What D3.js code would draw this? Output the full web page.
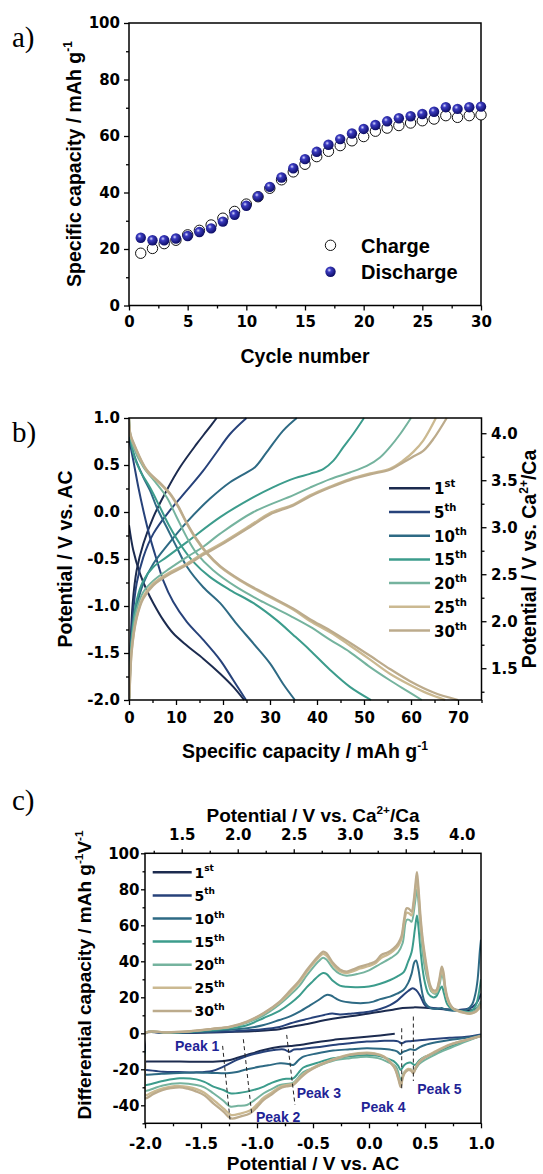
<!DOCTYPE html>
<html><head><meta charset="utf-8">
<script src="https://cdn.jsdelivr.net/npm/d3@7"></script>
<style>
body{margin:0;background:#fff}
</style></head>
<body><svg id="fig" width="543" height="1174"></svg>
<script>
// ---------------- DATA ----------------
// Panel a
const cycleNumbers = [1,2,3,4,5,6,7,8,9,10,11,12,13,14,15,16,17,18,19,20,21,22,23,24,25,26,27,28,29,30];
const chargeCap = [18.5,20.2,21.9,23.1,25,26.6,28.5,30.9,33.3,35.9,38.5,41.5,44.5,47.3,50,52.7,54.6,56.6,58.3,59.8,61.7,62.8,63.7,64.6,65.4,66,67.2,66.6,67.2,67.5];
const dischargeCap = [24,23.1,23.1,23.7,24.6,26,27.3,29.7,32.1,35.3,38.6,42,45.3,48.6,51.8,54.4,56.9,58.9,60.9,62.5,63.9,65.2,66.3,67,67.8,68.6,70.2,69.6,70.2,70.4];
const aXTicks = [0,5,10,15,20,25,30];
const aXMinor = [2.5,7.5,12.5,17.5,22.5,27.5];
const aYTicks = [0,20,40,60,80,100];
const aYMinor = [10,30,50,70,90];

// Legend (panels b and c)
const cycleLabels = ["1","5","10","15","20","25","30"];
const cycleSuffix = ["st","th","th","th","th","th","th"];
const cycleColors = ["#1c2b4f","#27427a","#2e6a84","#3c9c8c","#75b39e","#cbb991","#bcab8c"];

// Panel b : [capacity, potential vs AC]
const bCh1  = [[0,-2],[0.07,-1.96],[0.35,-1.4],[0.78,-0.974],[1.63,-0.62],[3.05,-0.337],[5.18,-0.054],[8.0,0.229],[10.85,0.476],[14.4,0.724],[16.5,0.86],[18.65,1.0]];
const bCh5  = [[0,-2],[0.2,-1.61],[0.78,-1.115],[1.63,-0.76],[3.05,-0.48],[5.18,-0.23],[8.7,0.017],[12.3,0.229],[15.8,0.44],[18.65,0.636],[21.5,0.83],[25.0,1.0]];
const bCh10 = [[0,-2],[0.07,-1.96],[0.57,-1.40],[1.63,-1.01],[3.05,-0.76],[5.18,-0.55],[8.7,-0.32],[12.3,-0.107],[17.2,0.14],[21.5,0.317],[25.0,0.42],[26.8,0.476],[29.3,0.636],[32.8,0.866],[35.7,1.0]];
const bCh15 = [[0,-2],[0.07,-1.93],[0.57,-1.33],[1.63,-0.94],[3.05,-0.73],[5.18,-0.585],[8.0,-0.48],[12.3,-0.32],[19.4,-0.054],[26.5,0.158],[30.5,0.26],[35.3,0.36],[38.5,0.406],[41.4,0.46],[43.5,0.547],[45.6,0.69],[47.7,0.83],[50.0,1.0]];
const bCh20 = [[0,-2],[0.07,-1.96],[0.57,-1.40],[1.63,-1.04],[3.05,-0.85],[5.18,-0.73],[8.7,-0.60],[12.3,-0.48],[15.8,-0.37],[19.4,-0.23],[26.5,0.0],[35.0,0.18],[38.5,0.26],[42.8,0.35],[47.0,0.42],[50.6,0.49],[53.4,0.58],[55.5,0.69],[57.7,0.83],[60.0,1.0]];
const bCh25 = [[0,-2],[0.07,-1.96],[0.57,-1.47],[1.63,-1.115],[3.05,-0.90],[5.18,-0.76],[8.7,-0.64],[12.3,-0.55],[15.8,-0.44],[19.4,-0.34],[26.5,-0.12],[30,-0.01],[35,0.08],[38.5,0.177],[42.8,0.27],[47.0,0.35],[51.3,0.41],[55.5,0.46],[58.4,0.55],[60.5,0.64],[62.6,0.76],[65.3,1.0]];
const bCh30 = [[0,-2],[0.07,-1.97],[0.57,-1.49],[1.63,-1.13],[3.05,-0.92],[5.18,-0.78],[8.7,-0.66],[12.3,-0.565],[15.8,-0.455],[19.4,-0.355],[26.5,-0.135],[30,-0.025],[35,0.07],[38.5,0.165],[42.8,0.26],[47.0,0.34],[51.3,0.40],[55.5,0.45],[58.4,0.53],[60.5,0.59],[62.6,0.65],[64.8,0.78],[67.6,1.0]];

const bDis1  = [[0,-0.14],[0.92,-0.41],[2.34,-0.655],[3.76,-0.83],[5.18,-0.97],[7.3,-1.15],[9.4,-1.29],[12.3,-1.42],[15.8,-1.56],[19.4,-1.72],[22.2,-1.86],[24.5,-2.0]];
const bDis5  = [[0,0.78],[0.92,0.547],[1.99,0.264],[3.05,0.017],[4.47,-0.27],[5.9,-0.51],[7.3,-0.73],[9.4,-0.956],[12.3,-1.17],[15.8,-1.36],[19.4,-1.575],[22.2,-1.79],[24.9,-2.0]];
const bDis10 = [[0,0.8],[1.28,0.58],[3.05,0.37],[4.47,0.23],[5.9,0.05],[8.0,-0.16],[10.1,-0.37],[12.3,-0.58],[15.8,-0.80],[19.4,-0.97],[22.9,-1.19],[26.5,-1.40],[30.0,-1.61],[32.8,-1.83],[35.3,-2.0]];
const bDis15 = [[0,1.0],[0.3,0.8],[0.92,0.62],[2.34,0.44],[4.47,0.26],[6.6,0.05],[8.7,-0.16],[10.85,-0.34],[13.7,-0.53],[17.2,-0.69],[21.5,-0.83],[26.5,-0.97],[31.4,-1.15],[35.0,-1.31],[38.5,-1.47],[42.8,-1.68],[47.0,-1.86],[51.5,-2.0]];
const bDis20 = [[0,1.0],[0.3,0.82],[0.92,0.69],[3.05,0.48],[5.9,0.30],[8.0,0.16],[10.1,-0.05],[12.3,-0.27],[14.4,-0.44],[17.9,-0.62],[22.9,-0.80],[28.6,-0.96],[34.5,-1.11],[38.5,-1.22],[42.8,-1.36],[47.0,-1.49],[51.3,-1.65],[55.5,-1.79],[58.7,-1.89],[62.3,-2.0]];
const bDis25 = [[0,1.0],[0.3,0.82],[1.28,0.69],[3.76,0.44],[6.6,0.30],[8.7,0.19],[10.5,0.05],[12.3,-0.125],[14.4,-0.30],[16.5,-0.44],[19.4,-0.585],[23.6,-0.73],[28.6,-0.87],[35.0,-1.04],[38.5,-1.16],[42.8,-1.28],[47.0,-1.42],[51.3,-1.57],[55.5,-1.72],[59.8,-1.84],[63.5,-1.93],[67.3,-2.0]];
const bDis30 = [[0,1.0],[0.3,0.83],[1.28,0.70],[3.76,0.45],[6.6,0.31],[8.7,0.20],[10.5,0.06],[12.3,-0.115],[14.4,-0.29],[16.5,-0.43],[19.4,-0.575],[23.6,-0.72],[28.6,-0.86],[35.0,-1.03],[38.5,-1.14],[42.8,-1.26],[47.0,-1.39],[51.3,-1.53],[55.5,-1.67],[59.8,-1.80],[64.8,-1.92],[70.0,-2.0]];

const bXTicks = [0,10,20,30,40,50,60,70];
const bXMinor = [5,15,25,35,45,55,65,75];
const bYTicks = [-2,-1.5,-1,-0.5,0,0.5,1];
const bYMinor = [-1.75,-1.25,-0.75,-0.25,0.25,0.75];
const bY2Ticks = [1.5,2,2.5,3,3.5,4];
const bY2Minor = [1.25,1.75,2.25,2.75,3.25,3.75];

// Panel c : [potential vs AC, dQ/dV]  discharge branch (1.0 -> -2.0) and charge branch (-2.0 -> 1.0)
const cDis1  = [[0.23,-0.3],[0.1,-1.2],[-0.02,-1.9],[-0.17,-2.8],[-0.32,-3.7],[-0.47,-5],[-0.616,-6.5],[-0.7,-7],[-0.795,-7.5],[-0.94,-9.3],[-1.09,-12],[-1.24,-14.8],[-1.36,-15.7],[-1.5,-15.8],[-1.69,-15.7],[-1.85,-15.7],[-1.985,-15.7]];
const cDis5  = [[1.0,-0.6],[0.87,-1.9],[0.72,-2.5],[0.58,-3.1],[0.45,-3.8],[0.37,-4.4],[0.33,-4.6],[0.292,-5.6],[0.26,-4.5],[0.22,-4.1],[0.1,-4.3],[-0.02,-4.6],[-0.17,-5.5],[-0.32,-6.5],[-0.47,-7.8],[-0.616,-8.8],[-0.67,-9],[-0.71,-10.3],[-0.76,-9],[-0.85,-9.3],[-0.94,-10.2],[-1.09,-12.6],[-1.18,-14.8],[-1.3,-18.5],[-1.4,-20.9],[-1.54,-21.7],[-1.7,-21.5],[-1.84,-21.3],[-1.985,-20.4]];
const cDis10 = [[1.0,-0.9],[0.87,-2.5],[0.72,-3.7],[0.6,-5],[0.5,-6.5],[0.45,-7.8],[0.41,-9.3],[0.37,-8.8],[0.336,-9.6],[0.3,-10.5],[0.28,-11.5],[0.25,-10],[0.2,-9.2],[0.1,-8.6],[-0.02,-8.3],[-0.17,-8.9],[-0.32,-9.6],[-0.467,-11.2],[-0.586,-13],[-0.63,-15],[-0.676,-17.6],[-0.72,-17],[-0.795,-16.7],[-0.9,-17.8],[-0.97,-18.5],[-1.09,-20],[-1.18,-21.5],[-1.27,-22.2],[-1.4,-22],[-1.55,-21.8],[-1.69,-22],[-1.85,-22.5],[-1.985,-23]];
const cDis15 = [[1.0,-1.5],[0.87,-4],[0.72,-7.4],[0.6,-10.5],[0.5,-13],[0.45,-15],[0.41,-17.6],[0.37,-16.2],[0.336,-16.7],[0.31,-18],[0.283,-20.4],[0.26,-18],[0.22,-15.5],[0.16,-13.9],[0.08,-12.5],[-0.02,-12],[-0.17,-12.8],[-0.32,-13.9],[-0.467,-16.5],[-0.586,-19],[-0.63,-22],[-0.676,-25],[-0.74,-25.3],[-0.795,-25.9],[-0.87,-27.5],[-0.94,-29.6],[-1.09,-32.4],[-1.24,-33.3],[-1.3,-31.5],[-1.39,-29.6],[-1.47,-27],[-1.54,-25.6],[-1.69,-25],[-1.84,-26.5],[-1.985,-28.7]];
const cDis20 = [[1.0,-1.5],[0.87,-4.5],[0.72,-8.3],[0.6,-11.5],[0.5,-14.8],[0.45,-17],[0.42,-19.5],[0.396,-21.3],[0.37,-20],[0.336,-20.4],[0.31,-22],[0.283,-25.9],[0.265,-22.5],[0.24,-18.5],[0.16,-15.7],[0.08,-13.8],[-0.02,-13],[-0.17,-13.8],[-0.32,-15.2],[-0.467,-18.5],[-0.586,-21.5],[-0.63,-24.5],[-0.676,-27.4],[-0.795,-28.7],[-0.87,-31],[-0.94,-33.3],[-1.02,-37],[-1.09,-39.8],[-1.17,-40.3],[-1.24,-40.7],[-1.3,-37.5],[-1.39,-33.3],[-1.47,-30],[-1.54,-28.7],[-1.69,-27.8],[-1.84,-29],[-1.985,-31.9]];
const cDis25 = [[1.0,-1.4],[0.87,-3.6],[0.72,-6.3],[0.574,-10.7],[0.5,-13.2],[0.455,-15.3],[0.42,-18.5],[0.396,-21.5],[0.375,-20.2],[0.35,-19.8],[0.32,-21.4],[0.3,-24.3],[0.283,-29],[0.265,-25.3],[0.24,-20.5],[0.22,-18],[0.13,-12.7],[0.05,-11.2],[-0.02,-10.8],[-0.17,-11.7],[-0.32,-14.4],[-0.467,-18],[-0.55,-21],[-0.616,-24.3],[-0.676,-28],[-0.74,-28.8],[-0.795,-29.8],[-0.87,-33],[-0.94,-35.8],[-1.0,-39.5],[-1.06,-42.8],[-1.15,-44.6],[-1.23,-45.4],[-1.3,-41.7],[-1.39,-37],[-1.47,-33],[-1.54,-31],[-1.62,-29.8],[-1.69,-29.3],[-1.77,-29.6],[-1.84,-30.6],[-1.92,-32.3],[-1.985,-34.3]];
const cDis30 = [[1.0,-1.5],[0.87,-3.7],[0.72,-6.5],[0.574,-11],[0.5,-13.5],[0.455,-15.7],[0.42,-19],[0.396,-22.2],[0.375,-20.8],[0.35,-20.4],[0.32,-22],[0.3,-25],[0.283,-29.8],[0.265,-26],[0.24,-21],[0.22,-18.5],[0.13,-13],[0.05,-11.5],[-0.02,-11.1],[-0.17,-12],[-0.32,-14.8],[-0.467,-18.5],[-0.55,-21.5],[-0.616,-25],[-0.676,-28.7],[-0.74,-29.5],[-0.795,-30.6],[-0.87,-34],[-0.94,-37],[-1.0,-41],[-1.06,-44.4],[-1.15,-46.3],[-1.23,-47.3],[-1.3,-43.5],[-1.39,-38.9],[-1.47,-34.5],[-1.54,-32.4],[-1.62,-30.8],[-1.69,-30],[-1.77,-30.5],[-1.84,-31.5],[-1.92,-33.5],[-1.985,-36]];

const cCh1  = [[-2,0],[-1.8,0.1],[-1.6,0.2],[-1.4,0.5],[-1.2,0.8],[-1.0,1.3],[-0.8,2.3],[-0.7,3.5],[-0.55,5.2],[-0.4,7.2],[-0.25,8.8],[-0.1,10],[0,11],[0.1,12],[0.2,13],[0.3,14],[0.4,14.4],[0.5,14.2],[0.6,13.7],[0.7,13.2],[0.8,13],[0.9,12.8],[0.95,13.5],[1.0,17]];
const cCh5  = [[-2,0],[-1.8,0.1],[-1.6,0.3],[-1.4,0.7],[-1.2,1.2],[-1.0,2],[-0.8,3.5],[-0.7,5.6],[-0.55,8],[-0.4,10.2],[-0.33,11],[-0.26,10.5],[-0.15,11],[0,12],[0.1,13.5],[0.188,15.7],[0.25,18],[0.307,21.3],[0.35,23.5],[0.39,25],[0.42,24],[0.455,21],[0.49,16.5],[0.515,14.8],[0.6,13.9],[0.7,13.2],[0.8,13],[0.9,13.9],[0.95,16],[0.98,19],[1.0,22]];
const cCh10 = [[-2,0],[-1.8,0.2],[-1.6,0.6],[-1.4,1.2],[-1.24,2],[-1.09,2.8],[-0.94,4.6],[-0.8,7.4],[-0.7,9.5],[-0.62,12],[-0.527,15.5],[-0.45,18.5],[-0.38,21.3],[-0.34,21],[-0.3,19.5],[-0.25,18],[-0.15,17],[-0.05,16.8],[0.04,17.6],[0.1,19],[0.188,20.4],[0.25,22],[0.307,24],[0.35,28],[0.38,33],[0.405,39.5],[0.42,40.5],[0.44,36],[0.46,28],[0.48,21],[0.5,17],[0.55,14],[0.6,13.5],[0.65,14],[0.67,13.5],[0.7,13],[0.8,12.5],[0.87,13],[0.92,16],[0.95,22],[0.97,30],[0.99,46],[1.0,52]];
const cCh15 = [[-2,0],[-1.8,0.3],[-1.6,0.8],[-1.4,1.8],[-1.24,2.8],[-1.09,4.5],[-0.94,8.5],[-0.8,12.5],[-0.7,16.7],[-0.62,21],[-0.557,25.5],[-0.5,29],[-0.45,32],[-0.41,33.5],[-0.38,33],[-0.32,29],[-0.26,26.5],[-0.2,25.8],[-0.1,25.6],[0,26],[0.1,27.5],[0.19,29.6],[0.25,31.5],[0.31,34],[0.35,40],[0.38,45],[0.41,58],[0.428,65.5],[0.44,60],[0.46,46],[0.48,35],[0.5,28],[0.53,22],[0.57,20],[0.6,20.5],[0.63,24],[0.65,26],[0.67,22],[0.7,16],[0.74,13.5],[0.8,12.5],[0.9,12],[0.95,15],[0.98,22],[1.0,30]];
const cCh20 = [[-2,0],[-1.8,0.4],[-1.6,1],[-1.4,2.2],[-1.24,3.3],[-1.09,5.8],[-0.94,10],[-0.8,16],[-0.7,21.5],[-0.62,26.5],[-0.557,32],[-0.5,36.5],[-0.45,40],[-0.41,42],[-0.38,41],[-0.32,36],[-0.26,33],[-0.2,32],[-0.1,33],[0,35],[0.1,38.5],[0.2,42],[0.26,45],[0.3,50],[0.336,63],[0.36,63],[0.38,62],[0.41,72],[0.428,80],[0.44,74],[0.46,58],[0.48,44],[0.5,36],[0.53,28],[0.56,23],[0.6,22],[0.63,27],[0.65,33],[0.665,30],[0.69,21],[0.72,16],[0.76,13.5],[0.8,12.5],[0.9,11.5],[0.95,13],[1.0,18]];
const cCh25 = [[-2,0],[-1.8,0.5],[-1.6,1.1],[-1.4,2.4],[-1.24,3.6],[-1.09,6.3],[-0.94,11],[-0.8,17],[-0.7,23],[-0.62,28.5],[-0.557,34],[-0.5,38.5],[-0.45,42],[-0.41,44.2],[-0.38,43.2],[-0.32,38],[-0.26,34.5],[-0.2,33.5],[-0.14,34.5],[-0.08,36],[0.0,37.4],[0.06,39],[0.11,42],[0.17,43.8],[0.22,46],[0.26,48.5],[0.29,52.5],[0.315,62],[0.336,67],[0.36,66.5],[0.38,65.5],[0.40,72],[0.415,80],[0.428,86],[0.44,79],[0.46,62],[0.48,50],[0.5,41],[0.52,33],[0.545,26],[0.57,23],[0.6,23],[0.625,28],[0.65,35],[0.665,32],[0.68,25],[0.7,19],[0.73,15],[0.76,13.2],[0.8,12.2],[0.85,11.3],[0.9,10.8],[0.95,11.8],[0.98,13.5],[1.0,15]];
const cCh30 = [[-2,0],[-1.8,0.5],[-1.6,1.2],[-1.4,2.5],[-1.24,3.7],[-1.09,6.5],[-0.94,11.3],[-0.8,17.5],[-0.7,24],[-0.62,29.5],[-0.557,35],[-0.5,39.5],[-0.45,43],[-0.41,45.4],[-0.38,44.5],[-0.32,39],[-0.26,35.5],[-0.2,34.3],[-0.14,35.5],[-0.08,37],[0.0,38.5],[0.06,40],[0.11,43.5],[0.17,45],[0.22,47.2],[0.26,50],[0.29,54],[0.315,64],[0.336,69.5],[0.36,69],[0.38,67.6],[0.40,74],[0.415,83],[0.428,89.5],[0.44,82],[0.46,65],[0.48,52],[0.5,43],[0.52,35],[0.545,27],[0.57,24],[0.6,24],[0.625,29],[0.65,37],[0.665,34],[0.68,26],[0.7,20],[0.73,15.5],[0.76,13.5],[0.8,12.5],[0.85,11.5],[0.9,11],[0.95,12],[0.98,14],[1.0,16]];

const cXTicks = [-2,-1.5,-1,-0.5,0,0.5,1];
const cXMinor = [-1.75,-1.25,-0.75,-0.25,0.25,0.75];
const cYTicks = [-40,-20,0,20,40,60,80,100];
const cYMinor = [-50,-30,-10,10,30,50,70,90];
const cX2Ticks = [1.5,2,2.5,3,3.5,4];
const cX2Minor = [1.25,1.75,2.25,2.75,3.25,3.75];

// Peak markers: label, label position [V, dQ/dV], dashed guide from [V,y] to [V,y]
const peakNames = ["Peak 1","Peak 2","Peak 3","Peak 4","Peak 5"];
const peakLabelAt = [[-1.732,-10.1],[-1.009,-49],[-0.646,-35.9],[-0.071,-43.7],[0.431,-33.5]];
const peakLineFrom = [[-1.307,-7.0],[-1.122,-3.3],[-0.735,-0.9],[0.292,2.8],[0.396,9.3]];
const peakLineTo = [[-1.241,-48.1],[-1.048,-44.4],[-0.661,-39.8],[0.292,-31],[0.396,-26.5]];

const bCharge = [bCh1,bCh5,bCh10,bCh15,bCh20,bCh25,bCh30];
const bDischarge = [bDis1,bDis5,bDis10,bDis15,bDis20,bDis25,bDis30];
const cDischarge = [cDis1,cDis5,cDis10,cDis15,cDis20,cDis25,cDis30];
const cCharge = [cCh1,cCh5,cCh10,cCh15,cCh20,cCh25,cCh30];

// ---------------- DRAWING ----------------
const svg = d3.select('#fig');
const SANS = "'Liberation Sans',Arial,sans-serif";
const TICKFONT = "'DejaVu Sans',sans-serif";
const f1 = v => v.toFixed(1);
const f0 = v => String(v);

function styleAxis(g, fs){
  g.select('.domain').remove();
  g.selectAll('line').attr('stroke','#000').attr('stroke-width',1.3);
  g.selectAll('text').style('font-family',TICKFONT).style('font-weight','bold').attr('font-size',fs||15).style('fill','#000');
}
function axis(gen, vals, fmt, size, pad, tr){
  const g = svg.append('g').attr('transform',tr);
  g.call(gen.tickValues(vals).tickSize(size).tickPadding(pad).tickFormat(fmt||''));
  styleAxis(g);
  return g;
}
function frame(x0,y0,x1,y1){
  svg.append('rect').attr('x',x0).attr('y',y0).attr('width',x1-x0).attr('height',y1-y0)
    .attr('fill','none').attr('stroke','#000').attr('stroke-width',1.5);
}
// rich text with superscripts: parts = ["text", ["sup"], ...]
function rich(x,y,parts,opt){
  opt = opt||{};
  const fs = opt.size||19.5, sup = opt.sup||fs*0.62, raise = opt.raise||fs*0.42;
  const t = svg.append('text').attr('font-size',fs).attr('text-anchor',opt.anchor||'start')
    .style('font-family',opt.family||SANS).style('font-weight','bold').style('fill',opt.fill||'#000');
  if(opt.rotate){ t.attr('transform',`translate(${x},${y}) rotate(${opt.rotate})`); }
  else { t.attr('x',x).attr('y',y); }
  let cur = 0;
  parts.forEach(p=>{
    const isSup = Array.isArray(p);
    const target = isSup ? -raise : 0;
    const ts = t.append('tspan').text(isSup?p[0]:p).attr('dy',target-cur);
    if(isSup) ts.attr('font-size',sup);
    cur = target;
  });
  return t;
}
function panelLabel(x,y,s){
  svg.append('text').attr('x',x).attr('y',y).text(s)
    .style('font-family',"'Liberation Serif','Times New Roman',serif").style('font-weight','normal').attr('font-size',29).style('fill','#000');
}

// ===== Panel a =====
const xA = d3.scaleLinear([0,30],[129,481]);
const yA = d3.scaleLinear([0,100],[305.5,23]);
axis(d3.axisBottom(xA), aXTicks, f0, 5, 6, `translate(0,${yA(0)})`);
axis(d3.axisBottom(xA), aXMinor, null, 3, 0, `translate(0,${yA(0)})`);
axis(d3.axisLeft(yA), aYTicks, f0, 5, 4, `translate(${xA(0)},0)`);
axis(d3.axisLeft(yA), aYMinor, null, 3, 0, `translate(${xA(0)},0)`);
frame(xA(0),yA(100),xA(30),yA(0));

const defs = svg.append('defs');
const grad = defs.append('radialGradient').attr('id','ball').attr('cx','38%').attr('cy','35%').attr('r','65%');
grad.append('stop').attr('offset','0%').attr('stop-color','#d8d8ff');
grad.append('stop').attr('offset','30%').attr('stop-color','#3b3bc0');
grad.append('stop').attr('offset','100%').attr('stop-color','#0d0d66');

svg.append('g').selectAll('circle').data(cycleNumbers).join('circle')
  .attr('cx',(d)=>xA(d)).attr('cy',(d,i)=>yA(chargeCap[i])).attr('r',5.2)
  .attr('fill','#fff').attr('stroke','#111').attr('stroke-width',1);
svg.append('g').selectAll('circle').data(cycleNumbers).join('circle')
  .attr('cx',(d)=>xA(d)).attr('cy',(d,i)=>yA(dischargeCap[i])).attr('r',5.2)
  .attr('fill','url(#ball)');

svg.append('circle').attr('cx',330.5).attr('cy',245.3).attr('r',5.2).attr('fill','#fff').attr('stroke','#111').attr('stroke-width',1);
svg.append('circle').attr('cx',330.5).attr('cy',271.7).attr('r',5.2).attr('fill','url(#ball)');
rich(361,252.5,["Charge"],{size:20});
rich(361,279,["Discharge"],{size:20});

rich(80.5,164,["Specific capacity / mAh g",["-1"]],{rotate:-90,anchor:'middle',size:19.5});
rich(305,363,["Cycle number"],{anchor:'middle',size:19.5});
panelLabel(12,47,"a)");

// ===== Panel b =====
const xB = d3.scaleLinear([0,75],[129,481.5]);
const yB = d3.scaleLinear([-2,1],[700,418]);
const yB2 = d3.scaleLinear([-2+3.162,1+3.162],[700,418]);
axis(d3.axisBottom(xB), bXTicks, f0, 5, 7.5, `translate(0,${yB(-2)})`);
axis(d3.axisBottom(xB), bXMinor, null, 3, 0, `translate(0,${yB(-2)})`);
axis(d3.axisLeft(yB), bYTicks, f1, 5, 4, `translate(${xB(0)},0)`);
axis(d3.axisLeft(yB), bYMinor, null, 3, 0, `translate(${xB(0)},0)`);
axis(d3.axisRight(yB2), bY2Ticks, f1, 5, 4.5, `translate(${xB(75)},0)`);
axis(d3.axisRight(yB2), bY2Minor, null, 3, 0, `translate(${xB(75)},0)`);

svg.append('clipPath').attr('id','clipB').append('rect').attr('x',xB(0)).attr('y',yB(1)-1).attr('width',xB(75)-xB(0)).attr('height',yB(-2)-yB(1)+2);
const lineB = d3.line().x(d=>xB(d[0])).y(d=>yB(d[1])).curve(d3.curveCatmullRom.alpha(0.5));
const gB = svg.append('g').attr('clip-path','url(#clipB)');
cycleLabels.forEach((c,i)=>{
  [bCharge[i], bDischarge[i]].forEach(arr=>{
    gB.append('path').attr('d',lineB(arr)).attr('fill','none').attr('stroke',cycleColors[i])
      .attr('stroke-width', i>=5 ? 2.3 : 2).attr('stroke-linejoin','round');
  });
});
frame(xB(0),yB(1),xB(75),yB(-2));

cycleLabels.forEach((c,i)=>{
  const y = 488.3 + i*23.7;
  svg.append('line').attr('x1',389).attr('x2',430).attr('y1',y).attr('y2',y).attr('stroke',cycleColors[i]).attr('stroke-width',2.5);
  rich(434,y+6,[c,[cycleSuffix[i]]],{size:15,sup:10,raise:7,family:TICKFONT});
});

rich(72,559,["Potential / V vs. AC"],{rotate:-90,anchor:'middle',size:19.5});
rich(536,559,["Potential / V vs. Ca",["2+"],"/Ca"],{rotate:-90,anchor:'middle',size:19.5});
rich(305,758,["Specific capacity / mAh g",["-1"]],{anchor:'middle',size:19.5});
panelLabel(12,442,"b)");

// ===== Panel c =====
const xC = d3.scaleLinear([-2,1],[145,481]);
const xC2 = d3.scaleLinear([-2+3.172,1+3.172],[145,481]);
const yC = d3.scaleLinear([-50,100],[1123.3,853.3]);
axis(d3.axisBottom(xC), cXTicks, f1, 5, 10, `translate(0,${yC(-50)})`);
axis(d3.axisBottom(xC), cXMinor, null, 3, 0, `translate(0,${yC(-50)})`);
axis(d3.axisLeft(yC), cYTicks, f0, 4, 1.5, `translate(${xC(-2)},0)`);
axis(d3.axisLeft(yC), cYMinor, null, 2.5, 0, `translate(${xC(-2)},0)`);
axis(d3.axisTop(xC2), cX2Ticks, f1, 4, 9.5, `translate(0,${yC(100)})`);
axis(d3.axisTop(xC2), cX2Minor, null, 2.5, 0, `translate(0,${yC(100)})`);

svg.append('clipPath').attr('id','clipC').append('rect').attr('x',xC(-2)).attr('y',yC(100)).attr('width',xC(1)-xC(-2)).attr('height',yC(-50)-yC(100));
const lineC = d3.line().x(d=>xC(d[0])).y(d=>yC(d[1])).curve(d3.curveCatmullRom.alpha(0.5));
const gC = svg.append('g').attr('clip-path','url(#clipC)');
cycleLabels.forEach((c,i)=>{
  const dis = cDischarge[i];
  const last = dis[dis.length-1];
  const pts = dis.concat([[-2,last[1]],[-2,last[1]*0.5]]).concat(cCharge[i]);
  gC.append('path').attr('d',lineC(pts)).attr('fill','none').attr('stroke',cycleColors[i])
    .attr('stroke-width', i>=5 ? 2.3 : 2).attr('stroke-linejoin','round');
});

// peak guides and labels
peakNames.forEach((p,i)=>{
  svg.append('line').attr('x1',xC(peakLineFrom[i][0])).attr('y1',yC(peakLineFrom[i][1]))
    .attr('x2',xC(peakLineTo[i][0])).attr('y2',yC(peakLineTo[i][1]))
    .attr('stroke','#222').attr('stroke-width',1).attr('stroke-dasharray','4,3');
  rich(xC(peakLabelAt[i][0]), yC(peakLabelAt[i][1]), [p], {size:14, fill:'#1f2496'});
});
frame(xC(-2),yC(100),xC(1),yC(-50));

cycleLabels.forEach((c,i)=>{
  const y = 872.3 + i*23.1;
  svg.append('line').attr('x1',152.7).attr('x2',191.7).attr('y1',y).attr('y2',y).attr('stroke',cycleColors[i]).attr('stroke-width',2.5);
  rich(194.5,y+5.5,[c,[cycleSuffix[i]]],{size:14,sup:9,raise:6.5,family:TICKFONT});
});

rich(91,975,["Differential capacity / mAh g",["-1"],"V",["-1"]],{rotate:-90,anchor:'middle',size:19});
rich(313,822,["Potential / V vs. Ca",["2+"],"/Ca"],{anchor:'middle',size:19});
rich(313,1170,["Potential / V vs. AC"],{anchor:'middle',size:19});
panelLabel(12,810,"c)");
</script></body></html>
